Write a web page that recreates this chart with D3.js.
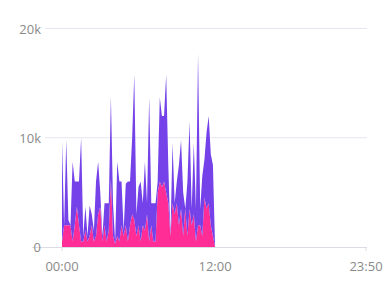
<!DOCTYPE html>
<html>
<head>
<meta charset="utf-8">
<script src="https://cdn.jsdelivr.net/npm/d3@7"></script>
<style>
  body { margin: 0; background: #fff; }
  text { font-family: "Open Sans", sans-serif; }
</style>
</head>
<body>
<div id="chart"></div>
<script>
// 10-minute slots from 00:00, values in thousands
const totals = [9.8, 2.0, 9.8, 2.5, 2.0, 7.8, 6.0, 6.0, 6.0, 10.0,
  1.0, 3.7, 1.0, 3.8, 3.0, 1.5, 6.0, 7.8, 5.0, 1.0,
  4.0, 4.0, 4.0, 13.8, 4.0, 0.5, 7.8, 6.0, 6.0, 1.5,
  5.8, 6.0, 6.0, 10.0, 15.8, 3.0, 5.5, 6.0, 4.0, 7.8,
  4.0, 13.7, 4.0, 4.0, 4.0, 6.0, 13.7, 12.0, 12.0, 15.8,
  7.5, 1.0, 9.5, 4.0, 6.0, 7.5, 9.8, 5.0, 2.0, 6.0,
  11.5, 3.5, 9.5, 3.5, 17.7, 3.5, 6.5, 8.0, 10.5, 12.0,
  8.5, 7.5, 0];
const pinkVals = [0.5, 2, 2, 2, 2, 0.5, 2, 3.7, 2, 0.5,
  0.5, 1.5, 0.5, 1, 2, 0.5, 1, 3, 3.7, 0.5,
  2, 0.5, 1.5, 6.2, 1, 0.3, 1, 0.5, 2, 1,
  2, 0.5, 2, 3, 2.5, 1, 2, 0.5, 2, 1.5,
  3, 0.5, 2, 0.5, 0.5, 5, 6, 5.5, 6, 5,
  4, 1, 4, 3, 4, 2, 3.5, 1, 3.5, 1,
  3.5, 2, 3, 0.5, 2, 2, 1, 4.5, 3.5, 4,
  2, 1, 0];
const yTicks = [0, 10000, 20000];
const xTickLabels = ["00:00", "12:00", "23:50"];
const xTickMinutes = [0, 720, 1430];

const width = 387, height = 286;

const data = totals.map((t, i) => ({
  minute: i * 10,
  pink: pinkVals[i] * 1000,
  purple: Math.max(0, t - pinkVals[i]) * 1000
}));

const x = d3.scaleLinear().domain([0, 1430]).range([62, 366]);
const y = d3.scaleLinear().domain([0, 20000]).range([247, 28.5]);

const stack = d3.stack().keys(["pink", "purple"]);
const series = stack(data);
const colors = { pink: "#ff2d95", purple: "#7442e8" };

const svg = d3.select("#chart")
  .append("svg")
  .attr("width", width)
  .attr("height", height);

// Grid lines
svg.selectAll("line.grid")
  .data(yTicks.filter((d) => d > 0))
  .enter()
  .append("line")
  .attr("x1", 45)
  .attr("x2", 367)
  .attr("y1", (d) => y(d))
  .attr("y2", (d) => y(d))
  .attr("stroke", "#e6e6f0")
  .attr("stroke-width", 1);

const area = d3.area()
  .x((d) => x(d.data.minute))
  .y0((d) => y(d[0]))
  .y1((d) => y(d[1]));

svg.selectAll("path.area")
  .data(series)
  .enter()
  .append("path")
  .attr("d", area)
  .attr("fill", (d) => colors[d.key]);

// Baseline
svg.append("line")
  .attr("x1", 32)
  .attr("x2", 367)
  .attr("y1", y(0) + 0.5)
  .attr("y2", y(0) + 0.5)
  .attr("stroke", "#dcdce6");

svg.selectAll("line.tick")
  .data([0, 1430])
  .enter()
  .append("line")
  .attr("x1", (d) => x(d))
  .attr("x2", (d) => x(d))
  .attr("y1", y(0))
  .attr("y2", y(0) + 4)
  .attr("stroke", "#dcdce6");

// Y labels
svg.selectAll("text.ylab")
  .data(yTicks)
  .enter()
  .append("text")
  .attr("x", 41)
  .attr("y", (d) => y(d) + 5)
  .attr("text-anchor", "end")
  .attr("fill", "#8a8a8a")
  .style("font-size", "13px")
  .text((d) => d3.format("~s")(d));

// X labels
svg.selectAll("text.xlab")
  .data(xTickMinutes)
  .enter()
  .append("text")
  .attr("x", (d) => x(d))
  .attr("y", 271)
  .attr("text-anchor", "middle")
  .attr("fill", "#8a8a8a")
  .style("font-size", "13px")
  .text((d, i) => xTickLabels[i]);
</script>
</body>
</html>
